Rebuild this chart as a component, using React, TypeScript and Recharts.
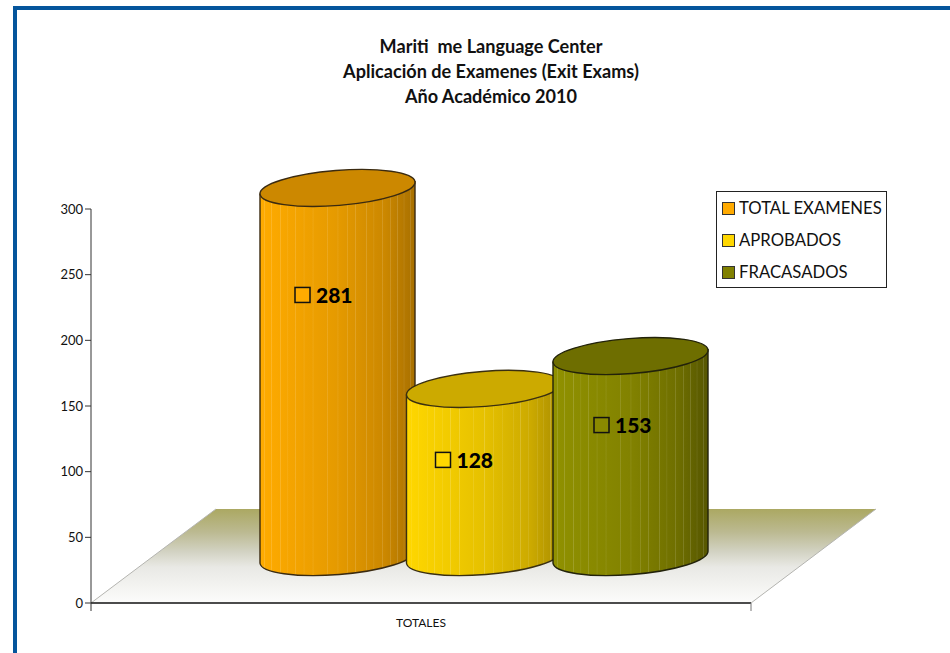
import { Bar, BarChart, Legend, LabelList, ReferenceArea, XAxis, YAxis } from "recharts";

const categories = ["TOTALES"];
const totalExamenes = [281];
const aprobados = [128];
const fracasados = [153];
const yTicks = [0, 50, 100, 150, 200, 250, 300];
const titleLines = ["Mariti\u00a0 me Language Center", "Aplicación de Examenes (Exit Exams)", "Año Académico 2010"];

const chartData = categories.map((name, i) => ({
  name,
  total: totalExamenes[i],
  aprobados: aprobados[i],
  fracasados: fracasados[i],
}));

// fake 3d: cylinders sit further back on the floor than the axis
const DEPTH_X = 63;
const DEPTH_Y = -46;
const RY = 17.5;
const TILT = -4.5;
const TIP_DY = 6.2;
const FLOOR_SKEW = 125;
const FLOOR_VALUE = 71.6;
const FONT = "Lato, sans-serif";

const stripes = [0.03, 0.075, 0.133, 0.18, 0.23, 0.284, 0.342, 0.434, 0.503, 0.563, 0.617, 0.688, 0.735, 0.789, 0.843, 0.886, 0.929, 0.972];

const Cylinder = (props: any) => {
  const { x, y, width, height, gradient, top, edge } = props;
  const rx = width / 2;
  const left = x + DEPTH_X;
  const right = left + width;
  const yTop = y + DEPTH_Y;
  const yBottom = y + height + DEPTH_Y;
  const body =
    `M${left} ${yTop + TIP_DY} L${left} ${yBottom + TIP_DY} ` +
    `A${rx} ${RY} ${TILT} 0 0 ${right} ${yBottom - TIP_DY} L${right} ${yTop - TIP_DY} Z`;
  const lid =
    `M${left} ${yTop + TIP_DY} A${rx} ${RY} ${TILT} 0 1 ${right} ${yTop - TIP_DY} ` +
    `A${rx} ${RY} ${TILT} 0 1 ${left} ${yTop + TIP_DY} Z`;
  return (
    <g>
      <path d={body} fill={`url(#${gradient})`} />
      <path d={body} fill="url(#stripes)" />
      <path d={body} fill="none" stroke={edge} strokeWidth={1.4} />
      <path d={lid} fill={top} stroke={edge} strokeWidth={1.4} />
    </g>
  );
};

const Floor = ({ x, y, width, height }: any) => (
  <g>
    <path
      d={`M${x} ${y + height} L${x + FLOOR_SKEW} ${y} L${x + width + FLOOR_SKEW} ${y} L${x + width} ${y + height} Z`}
      fill="url(#floor)"
    />
    <path d={`M${x} ${y + height} L${x + FLOOR_SKEW} ${y}`} stroke="#b4b4b0" strokeWidth={1} />
    <path d={`M${x + width} ${y + height} L${x + width + FLOOR_SKEW} ${y}`} stroke="#b4b4b0" strokeWidth={1} />
  </g>
);

const valueLabel = (fill: string, squareDx: number, textDx: number, dy: number) => (props: any) => {
  const { x, y, value } = props;
  const cy = y + DEPTH_Y + dy;
  return (
    <g>
      <rect x={x + DEPTH_X + squareDx} y={cy - 7.5} width={15} height={15} fill={fill} stroke="#111" strokeWidth={1.5} />
      <text x={x + DEPTH_X + textDx} y={cy + 8} fontFamily={FONT} fontWeight={900} fontSize={21} fill="#000">
        {value}
      </text>
    </g>
  );
};

const AxisTick = ({ x, y, payload }: any) => (
  <g>
    <line x1={x - 330} x2={x - 330} y1={y - 8} y2={y} stroke="#333" />
    <line x1={x + 330} x2={x + 330} y1={y - 8} y2={y} stroke="#777" />
    <text x={x} y={y + 16} textAnchor="middle" fontFamily={FONT} fontSize={12} fill="#111">
      {payload.value}
    </text>
  </g>
);

const legendItems = [
  { name: "TOTAL EXAMENES", color: "#ffaa00" },
  { name: "APROBADOS", color: "#ffd700" },
  { name: "FRACASADOS", color: "#808000" },
];

const LegendBox = () => (
  <div style={{ width: 171, height: 97, border: "1px solid #222", boxSizing: "border-box", background: "#fff" }}>
    {legendItems.map((item) => (
      <div key={item.name} style={{ display: "flex", alignItems: "center", height: 32, paddingLeft: 5 }}>
        <span style={{ width: 13, height: 13, boxSizing: "border-box", border: "1.5px solid #333", background: item.color, marginRight: 4 }} />
        <span style={{ fontFamily: FONT, fontSize: 16.7, color: "#111", whiteSpace: "nowrap" }}>{item.name}</span>
      </div>
    ))}
  </div>
);

export default function App() {
  return (
    <div style={{ position: "absolute", left: 0, top: 0, width: 950, height: 653, overflow: "hidden", background: "#fff" }}>
      <div
        style={{
          position: "absolute",
          left: 13,
          top: 6,
          right: 0,
          bottom: 0,
          borderTop: "4px solid #05559c",
          borderLeft: "4px solid #05559c",
        }}
      />
      <div style={{ position: "absolute", left: 341, top: 34, width: 300, textAlign: "center", fontFamily: FONT, fontWeight: 700, fontSize: 18.1, lineHeight: "25px", color: "#111", whiteSpace: "nowrap" }}>
        {titleLines.map((line) => (
          <div key={line}>{line}</div>
        ))}
      </div>
      <BarChart
        width={950}
        height={653}
        data={chartData}
        barSize={155}
        barGap={-8.5}
        margin={{ top: 209, right: 199, bottom: 20, left: 31 }}
        style={{ position: "absolute", left: 0, top: 0 }}
      >
        <defs>
          <linearGradient id="floor" x1="0" y1="0" x2="0" y2="1">
            <stop offset="0" stopColor="#aba862" />
            <stop offset="0.25" stopColor="#bcba92" />
            <stop offset="0.45" stopColor="#d2d2c2" />
            <stop offset="0.62" stopColor="#e9e9e5" />
            <stop offset="1" stopColor="#fcfcfb" />
          </linearGradient>
          <linearGradient id="cylTotal" x1="0" y1="0" x2="1" y2="0">
            <stop offset="0" stopColor="#ffab00" />
            <stop offset="0.5" stopColor="#e59a00" />
            <stop offset="0.8" stopColor="#cc8800" />
            <stop offset="1" stopColor="#a87000" />
          </linearGradient>
          <linearGradient id="cylAprobados" x1="0" y1="0" x2="1" y2="0">
            <stop offset="0" stopColor="#ffd700" />
            <stop offset="0.5" stopColor="#e6c100" />
            <stop offset="0.8" stopColor="#ccaa00" />
            <stop offset="1" stopColor="#a88c00" />
          </linearGradient>
          <linearGradient id="cylFracasados" x1="0" y1="0" x2="1" y2="0">
            <stop offset="0" stopColor="#909100" />
            <stop offset="0.5" stopColor="#828200" />
            <stop offset="0.8" stopColor="#6f6f00" />
            <stop offset="1" stopColor="#565600" />
          </linearGradient>
          <linearGradient id="stripes" x1="0" y1="0" x2="1" y2="0">
            {stripes.flatMap((s) => [
              <stop key={`${s}a`} offset={s - 0.004} stopColor="#fff" stopOpacity={0} />,
              <stop key={`${s}b`} offset={s} stopColor="#fff" stopOpacity={0.18} />,
              <stop key={`${s}c`} offset={s + 0.004} stopColor="#fff" stopOpacity={0} />,
            ])}
          </linearGradient>
        </defs>
        <XAxis dataKey="name" height={30} stroke="#111" strokeWidth={1.5} tickLine={false} tick={<AxisTick />} interval={0} />
        <YAxis
          width={60}
          domain={[0, 300]}
          ticks={yTicks}
          stroke="#333"
          tickSize={6}
          tick={{ fontFamily: FONT, fontSize: 13, fill: "#111" }}
        />
        <ReferenceArea y1={0} y2={FLOOR_VALUE} shape={<Floor />} />
        <Legend
          layout="vertical"
          align="center"
          verticalAlign="middle"
          content={<LegendBox />}
          wrapperStyle={{ left: 716, top: 191, width: 171 }}
        />
        <Bar
          dataKey="total"
          name="TOTAL EXAMENES"
          isAnimationActive={false}
          shape={<Cylinder gradient="cylTotal" top="#cc8800" edge="#3a2a10" />}
        >
          <LabelList dataKey="total" content={valueLabel("#ffab00", 35, 56, 107)} />
        </Bar>
        <Bar
          dataKey="aprobados"
          name="APROBADOS"
          isAnimationActive={false}
          shape={<Cylinder gradient="cylAprobados" top="#ccaa00" edge="#3a2f10" />}
        >
          <LabelList dataKey="aprobados" content={valueLabel("#ffd700", 29, 50, 71)} />
        </Bar>
        <Bar
          dataKey="fracasados"
          name="FRACASADOS"
          isAnimationActive={false}
          shape={<Cylinder gradient="cylFracasados" top="#6e6e00" edge="#22220a" />}
        >
          <LabelList dataKey="fracasados" content={valueLabel("#8a8a00", 41, 62, 69)} />
        </Bar>
      </BarChart>
    </div>
  );
}
